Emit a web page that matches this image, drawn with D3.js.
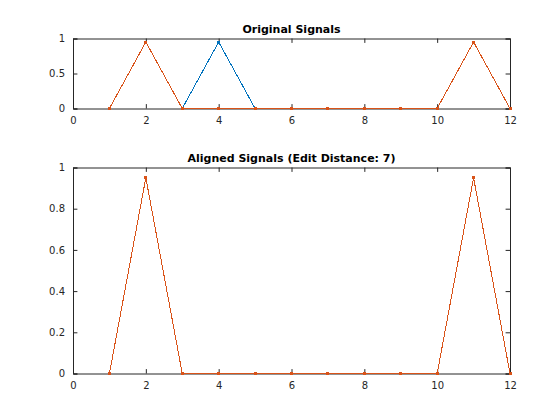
<!DOCTYPE html>
<html>
<head>
<meta charset="utf-8">
<script src="https://cdn.jsdelivr.net/npm/d3@7"></script>
<style>
  html, body { margin: 0; padding: 0; background: #fff; }
  svg { display: block; }
  text { font-family: "DejaVu Sans", sans-serif; }
</style>
</head>
<body>
<svg id="chart" width="560" height="420"></svg>
<script>
// ---- data ----
const xIndex = [1, 2, 3, 4, 5, 6, 7, 8, 9, 10, 11, 12];
const originalA = [0, 0.95, 0, 0.95, 0, 0, 0, 0, 0, 0, 0.95, 0];
const originalB = [0, 0.95, 0, 0, 0, 0, 0, 0, 0, 0, 0.95, 0];
const alignedA = [0, 0.95, 0, 0, 0, 0, 0, 0, 0, 0, 0.95, 0];
const alignedB = [0, 0.95, 0, 0, 0, 0, 0, 0, 0, 0, 0.95, 0];
const xTicks = [0, 2, 4, 6, 8, 10, 12];
const yTicksTop = [0, 0.5, 1];
const yTicksBottom = [0, 0.2, 0.4, 0.6, 0.8, 1];
const titles = ["Original Signals", "Aligned Signals (Edit Distance: 7)"];

const colors = ["#0072BD", "#D95319"];
const axisColor = "#262626";

const svg = d3.select("#chart");

function panel(top, bottom, seriesList, yTicks, title) {
  const left = 73, right = 510;
  const x = d3.scaleLinear().domain([0, 12]).range([left, right]);
  const y = d3.scaleLinear().domain([0, 1]).range([bottom, top]);
  const g = svg.append("g");
  const tl = 4.4;

  const fmt = d => d3.format("~g")(d);
  const xb = g.append("g").attr("transform", `translate(0,${bottom})`)
    .call(d3.axisBottom(x).tickValues(xTicks).tickSize(-tl).tickPadding(8).tickFormat(fmt));
  const xt = g.append("g").attr("transform", `translate(0,${top})`)
    .call(d3.axisTop(x).tickValues(xTicks).tickSize(-tl).tickFormat(""));
  const yl = g.append("g").attr("transform", `translate(${left},0)`)
    .call(d3.axisLeft(y).tickValues(yTicks).tickSize(-tl).tickPadding(8).tickFormat(fmt));
  const yr = g.append("g").attr("transform", `translate(${right},0)`)
    .call(d3.axisRight(y).tickValues(yTicks).tickSize(-tl).tickFormat(""));
  [xb, xt, yl, yr].forEach(a => {
    a.select(".domain").attr("stroke", axisColor).attr("stroke-width", 1);
    a.selectAll(".tick line").attr("stroke", axisColor);
    a.selectAll(".tick text").attr("fill", axisColor).style("font-size", "10px")
      .style("font-family", "DejaVu Sans, sans-serif");
  });

  const line = d3.line().x((d, i) => x(xIndex[i])).y(d => y(d));
  seriesList.forEach((vals, si) => {
    g.append("path").datum(vals)
      .attr("fill", "none").attr("stroke", colors[si]).attr("stroke-width", 1)
      .attr("shape-rendering", "crispEdges")
      .attr("d", line);
    g.selectAll(null).data(vals).enter().append("rect")
      .attr("x", (d, i) => x(xIndex[i]) - 1.5).attr("y", d => y(d) - 1.5)
      .attr("width", 3).attr("height", 3)
      .attr("shape-rendering", "crispEdges")
      .attr("fill", colors[si]);
  });

  g.append("text").attr("x", (left + right) / 2).attr("y", top - 6)
    .attr("text-anchor", "middle").style("font-size", "11px").style("font-weight", "bold")
    .attr("fill", "#000").text(title);
}

panel(38.5, 108.5, [originalA, originalB], yTicksTop, titles[0]);
panel(167.5, 373.5, [alignedA, alignedB], yTicksBottom, titles[1]);
</script>
</body>
</html>
